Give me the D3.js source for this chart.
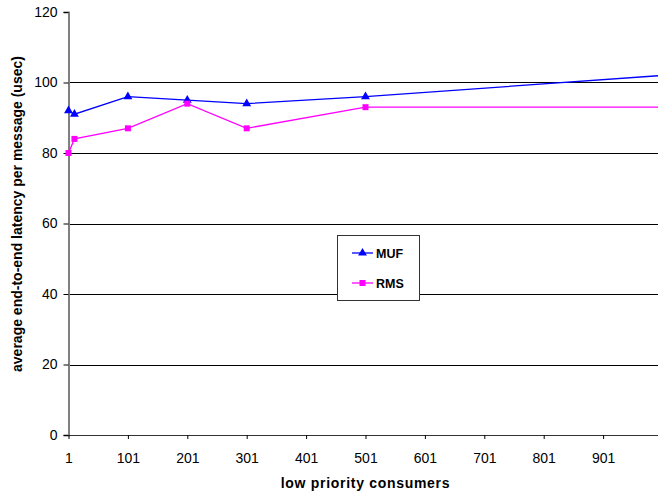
<!DOCTYPE html>
<html><head><meta charset="utf-8">
<script src="https://cdn.jsdelivr.net/npm/d3@7"></script>
<style>
html,body{margin:0;padding:0;background:#fff;overflow:hidden}
svg{display:block}
text{font-family:"Liberation Sans",Arial,sans-serif}
</style></head>
<body>
<svg id="chart" width="658" height="495"></svg>
<script>
const consumers = [1, 11, 101, 201, 301, 501, 1001];
const mufValues = [92, 91, 96, 95, 94, 96, 102];
const rmsValues = [80, 84, 87, 94, 87, 93, 93];
const xTicks = [1, 101, 201, 301, 401, 501, 601, 701, 801, 901];
const yTicks = [0, 20, 40, 60, 80, 100, 120];
const seriesNames = ["MUF", "RMS"];
const seriesColors = ["#0000FF", "#FF00FF"];

const svg = d3.select("#chart");
const x = d3.scaleLinear().domain([1, 1001]).range([68.5, 662.5]);
const y = d3.scaleLinear().domain([0, 120]).range([435, 12]);

// gridlines
svg.append("g").selectAll("line").data(yTicks.filter(d => d > 0 && d < 120)).join("line")
  .attr("x1", x(1)).attr("x2", 658)
  .attr("y1", d => Math.round(y(d)) + 0.5).attr("y2", d => Math.round(y(d)) + 0.5)
  .attr("stroke", "#000").attr("stroke-width", 1);

// y axis
const yAxis = svg.append("g").attr("transform", `translate(${x(1)},0)`)
  .call(d3.axisLeft(y).tickValues(yTicks).tickSize(5).tickPadding(6));
yAxis.select(".domain").attr("stroke", "#808080").attr("stroke-width", 2);
yAxis.selectAll(".tick line").attr("stroke", "#000");
yAxis.selectAll("text").attr("font-size", "14px").attr("fill", "#000");

// x axis
const xAxis = svg.append("g").attr("transform", `translate(0,${y(0)})`)
  .call(d3.axisBottom(x).tickValues(xTicks).tickSize(4).tickPadding(14));
xAxis.select(".domain").attr("stroke", "#333").attr("d", `M${x(1)},0.5H658`);
xAxis.selectAll(".tick line").attr("stroke", "#000");
xAxis.selectAll("text").attr("font-size", "14px").attr("fill", "#000");

// series
const series = [mufValues, rmsValues];
const line = d3.line().x((d, i) => x(consumers[i])).y(d => y(d));
series.forEach((vals, s) => {
  svg.append("path").datum(vals).attr("d", line)
    .attr("fill", "none").attr("stroke", seriesColors[s]).attr("stroke-width", 1.3);
});
const tri = d3.symbol().type(d3.symbolTriangle).size(34);
const sq = d3.symbol().type(d3.symbolSquare).size(36);
svg.append("g").selectAll("path").data(mufValues.slice(0, 6)).join("path")
  .attr("d", tri).attr("fill", seriesColors[0])
  .attr("transform", (d, i) => `translate(${x(consumers[i])},${y(d)})`);
svg.append("g").selectAll("path").data(rmsValues.slice(0, 6)).join("path")
  .attr("d", sq).attr("fill", seriesColors[1])
  .attr("transform", (d, i) => `translate(${x(consumers[i])},${y(d)})`);

// axis titles
svg.append("text").attr("x", 365.5).attr("y", 488).attr("text-anchor", "middle")
  .attr("font-size", "14px").attr("font-weight", "bold").attr("letter-spacing", "0.7px")
  .text("low priority consumers");
svg.append("text").attr("transform", "translate(22,214) rotate(-90)").attr("text-anchor", "middle")
  .attr("font-size", "14px").attr("font-weight", "bold")
  .text("average end-to-end latency per message (usec)");

// legend
const lg = svg.append("g");
lg.append("rect").attr("x", 337.5).attr("y", 235.5).attr("width", 82).attr("height", 65)
  .attr("fill", "#fff").attr("stroke", "#333").attr("stroke-width", 1);
seriesNames.forEach((name, i) => {
  const ly = 253 + i * 30;
  lg.append("line").attr("x1", 352).attr("x2", 373).attr("y1", ly).attr("y2", ly)
    .attr("stroke", seriesColors[i]).attr("stroke-width", 1.3);
  lg.append("path").attr("d", i === 0 ? tri : sq).attr("fill", seriesColors[i])
    .attr("transform", `translate(362.5,${ly})`);
  lg.append("text").attr("x", 376).attr("y", ly + 4.5).attr("font-size", "12.5px")
    .attr("font-weight", "bold").text(name);
});
</script>
</body></html>
